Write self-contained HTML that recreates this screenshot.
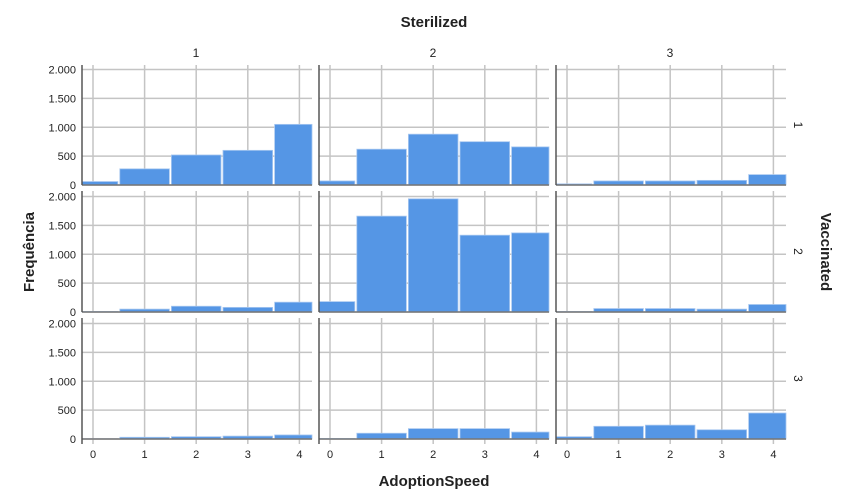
<!DOCTYPE html>
<html><head><meta charset="utf-8"><style>
body{margin:0;background:#fff}
svg{display:block;font-family:"Liberation Sans",Arial,sans-serif}
</style></head><body>
<svg id="c" width="854" height="504"></svg>
<script>
const categories=[0,1,2,3,4];
const colLabels=["1","2","3"];
const rowLabels=["1","2","3"];
const yTicks=[0,500,1000,1500,2000];
const yTickLabels=["0","500","1.000","1.500","2.000"];
const r1c1=[60,280,520,600,1050];
const r1c2=[70,620,880,750,660];
const r1c3=[20,70,70,80,180];
const r2c1=[10,50,100,80,170];
const r2c2=[180,1660,1960,1330,1370];
const r2c3=[10,60,60,50,130];
const r3c1=[5,30,40,50,70];
const r3c2=[10,100,180,180,120];
const r3c3=[40,220,240,160,450];
const grid=[[r1c1,r1c2,r1c3],[r2c1,r2c2,r2c3],[r3c1,r3c2,r3c3]];

const NS="http://www.w3.org/2000/svg";
const svg=document.getElementById('c');
function mk(t,a,p){const e=document.createElementNS(NS,t);for(const k in a)e.setAttribute(k,a[k]);(p||svg).appendChild(e);return e;}
const colX=[82,319,556], panelW=230;
const rowBase=[185,312,439], rowTop=[65,191,318], yScale=115.5/2000;
const xs=(ci,v)=>colX[ci]+11+(v)*51.6;
const ys=(ri,v)=>rowBase[ri]-v*yScale;

function txt(x,y,s,o){const t=mk('text',Object.assign({x:x,y:y,'font-size':11,fill:'#222'},o||{}));t.textContent=s;return t;}

for(let ri=0;ri<3;ri++)for(let ci=0;ci<3;ci++){
  const g=mk('g',{});
  
  
  const x0=colX[ci],x1=x0+panelW;
  yTicks.forEach(v=>{mk('line',{x1:x0,x2:x1,y1:ys(ri,v),y2:ys(ri,v),stroke:'#c4c4c4','stroke-width':1.5},g);});
  categories.forEach(c=>{mk('line',{x1:xs(ci,c),x2:xs(ci,c),y1:rowTop[ri],y2:rowBase[ri]+(ri==2?5:0),stroke:'#c4c4c4','stroke-width':1.5},g);});
  grid[ri][ci].forEach((v,i)=>{
    let a=xs(ci,categories[i]-0.5)+1,b=xs(ci,categories[i]+0.5)-1;
    a=Math.max(a,x0);b=Math.min(b,x1);
    const r=mk('rect',{x:a,y:ys(ri,v),width:b-a,height:Math.max(0,rowBase[ri]-ys(ri,v)),fill:'#5596e5',stroke:'#a9c8f0','stroke-width':0.8},g);
    
    
  });
  mk('line',{x1:x0,x2:x1,y1:rowBase[ri],y2:rowBase[ri],stroke:'#777','stroke-width':1.5},g);
  mk('line',{x1:x0,x2:x0,y1:rowTop[ri],y2:rowBase[ri]+(ri==2?5:0),stroke:'#555','stroke-width':1.5},g);
  if(ci==0){yTicks.forEach((v,i)=>{const t=txt(76,ys(ri,v)+4,yTickLabels[i],{'text-anchor':'end'});});}
  if(ri==2){categories.forEach(c=>{const t=txt(xs(ci,c),458,String(c),{'text-anchor':'middle'});});}
}
colLabels.forEach((s,ci)=>{const t=txt(colX[ci]+114,57,s,{'text-anchor':'middle','font-size':12});});
rowLabels.forEach((s,ri)=>{const cy=(rowTop[ri]+rowBase[ri])/2;const t=txt(794,cy,s,{'text-anchor':'middle','font-size':12,transform:'rotate(90 794 '+cy+')'});});
let t=txt(434,27,'Sterilized',{'text-anchor':'middle','font-size':15,'font-weight':'bold'});
t=txt(434,486,'AdoptionSpeed',{'text-anchor':'middle','font-size':15,'font-weight':'bold'});
t=txt(34,252,'Frequência',{'text-anchor':'middle','font-size':15,'font-weight':'bold',transform:'rotate(-90 34 252)'});
t=txt(821,252,'Vaccinated',{'text-anchor':'middle','font-size':15,'font-weight':'bold',transform:'rotate(90 821 252)'});
</script>
</body></html>
